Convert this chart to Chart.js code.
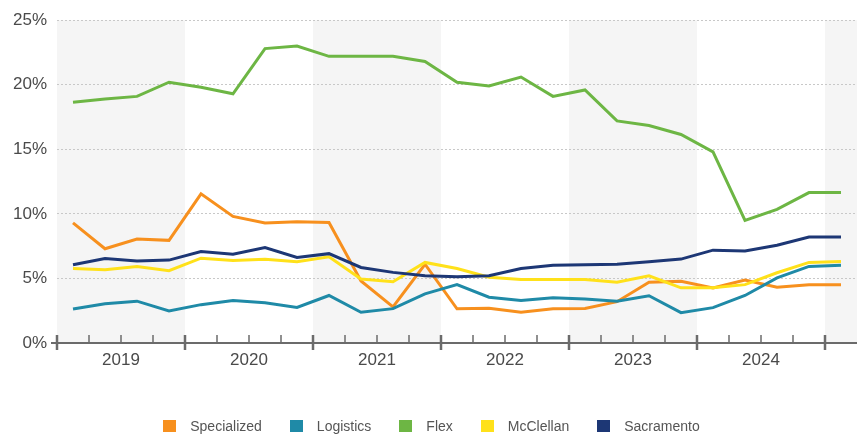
<!DOCTYPE html>
<html>
<head>
<meta charset="utf-8">
<script src="https://cdn.jsdelivr.net/npm/chart.js@4"></script>
<style>
  body { margin: 0; background: #fff; }
  #wrap { position: relative; width: 857px; height: 435px; }
  #legend {
    position: absolute; left: 6px; right: 0; top: 418px;
    display: flex; justify-content: center; align-items: center;
    font: 14px "Liberation Sans", Arial, sans-serif; color: #555;
  }
  #legend .item { display: flex; align-items: center; margin: 0 14px; }
  #legend .box { width: 13px; height: 12px; margin-right: 14px; }
</style>
</head>
<body>
<div id="wrap">
  <canvas id="chart" width="857" height="435"></canvas>
  <div id="legend"></div>
</div>
<script>
// Quarterly vacancy rates, 2019 Q1 to 2025 Q1
const quarters = [
  '2019 Q1', '2019 Q2', '2019 Q3', '2019 Q4',
  '2020 Q1', '2020 Q2', '2020 Q3', '2020 Q4',
  '2021 Q1', '2021 Q2', '2021 Q3', '2021 Q4',
  '2022 Q1', '2022 Q2', '2022 Q3', '2022 Q4',
  '2023 Q1', '2023 Q2', '2023 Q3', '2023 Q4',
  '2024 Q1', '2024 Q2', '2024 Q3', '2024 Q4',
  '2025 Q1'
];
const yearLabels = ['2019', '2020', '2021', '2022', '2023', '2024'];
const yTicks = [0, 5, 10, 15, 20, 25];

const specialized = [9.3, 7.3, 8.05, 7.95, 11.55, 9.8, 9.3, 9.4, 9.33, 4.8, 2.8, 6.1, 2.65, 2.7, 2.38, 2.65, 2.68, 3.2, 4.7, 4.78, 4.27, 4.88, 4.32, 4.52, 4.52];
const logistics   = [2.63, 3.04, 3.24, 2.48, 2.97, 3.3, 3.12, 2.76, 3.68, 2.38, 2.66, 3.81, 4.52, 3.55, 3.3, 3.5, 3.4, 3.24, 3.66, 2.35, 2.74, 3.68, 5.04, 5.93, 6.03];
const flex        = [18.65, 18.9, 19.1, 20.2, 19.8, 19.3, 22.8, 23.0, 22.2, 22.2, 22.2, 21.8, 20.2, 19.9, 20.6, 19.1, 19.6, 17.2, 16.85, 16.15, 14.8, 9.5, 10.35, 11.65, 11.65];
const mcclellan   = [5.77, 5.67, 5.93, 5.6, 6.57, 6.39, 6.49, 6.3, 6.67, 4.96, 4.75, 6.24, 5.77, 5.09, 4.91, 4.91, 4.91, 4.7, 5.21, 4.27, 4.27, 4.52, 5.44, 6.24, 6.31];
const sacramento  = [6.06, 6.54, 6.36, 6.42, 7.08, 6.88, 7.39, 6.62, 6.92, 5.85, 5.47, 5.21, 5.14, 5.21, 5.77, 6.03, 6.06, 6.1, 6.29, 6.5, 7.19, 7.13, 7.57, 8.2, 8.2];

const seriesNames  = ['Specialized', 'Logistics', 'Flex', 'McClellan', 'Sacramento'];
const seriesColors = ['#F7901E', '#1F8AA7', '#6DB644', '#FFE11A', '#1D3775'];
const seriesData   = [specialized, logistics, flex, mcclellan, sacramento];

const FONT = '"Liberation Sans", Arial, sans-serif';

// Alternating year bands (under the grid), plus the bottom axis with quarter and year ticks
const yearAxisPlugin = {
  id: 'yearAxis',
  beforeDraw(chart) {
    const { ctx, chartArea, scales: { x } } = chart;
    ctx.save();
    ctx.fillStyle = '#F5F5F5';
    for (let k = 0; k * 4 < quarters.length; k += 2) {
      const x0 = x.getPixelForValue(k * 4 - 0.5);
      const x1 = Math.min(x.getPixelForValue(k * 4 + 3.5), chartArea.right);
      ctx.fillRect(x0, chartArea.top, x1 - x0, chartArea.bottom - chartArea.top);
    }
    ctx.restore();
  },
  afterDraw(chart) {
    const { ctx, chartArea, scales: { x } } = chart;
    const y = chartArea.bottom;
    ctx.save();
    ctx.strokeStyle = '#6B6B6B';
    ctx.lineWidth = 2;
    ctx.beginPath();
    ctx.moveTo(chartArea.left - 6, y);
    ctx.lineTo(chartArea.right, y);
    ctx.stroke();
    for (let i = 0; i < quarters.length; i++) {
      const px = Math.round(x.getPixelForValue(i - 0.5));
      const major = i % 4 === 0;
      ctx.lineWidth = major ? 2.5 : 1.5;
      ctx.beginPath();
      ctx.moveTo(px, y - 8);
      ctx.lineTo(px, major ? y + 7 : y);
      ctx.stroke();
    }
    ctx.restore();
  }
};

const ctx = document.getElementById('chart').getContext('2d');
new Chart(ctx, {
  type: 'line',
  data: {
    labels: quarters,
    datasets: seriesNames.map((name, i) => ({
      label: name,
      data: seriesData[i],
      borderColor: seriesColors[i],
      backgroundColor: seriesColors[i],
      borderWidth: 3,
      pointRadius: 0,
      tension: 0,
      fill: false,
      order: seriesNames.length - i
    }))
  },
  options: {
    responsive: false,
    animation: false,
    layout: { padding: { top: 17, right: 0, left: 0, bottom: 62 } },
    plugins: {
      legend: { display: false },
      tooltip: { enabled: false }
    },
    scales: {
      x: {
        offset: true,
        grid: { display: false, drawTicks: false },
        border: { display: false },
        afterFit(scale) { scale.height = 30; },
        ticks: {
          autoSkip: false,
          maxRotation: 0,
          padding: 7,
          labelOffset: 16,
          color: '#4A4A4A',
          font: { family: FONT, size: 17 },
          callback: (v, i) => (i % 4 === 1 && yearLabels[(i - 1) / 4]) ? yearLabels[(i - 1) / 4] : ''
        }
      },
      y: {
        min: 0,
        max: 25,
        afterFit(scale) { scale.width = 57; },
        afterBuildTicks(scale) { scale.ticks = yTicks.map(v => ({ value: v })); },
        grid: { color: '#C8C8C8', lineWidth: 1, drawTicks: false },
        border: { display: false, dash: [2, 2] },
        ticks: {
          padding: 10,
          color: '#4A4A4A',
          font: { family: FONT, size: 17 },
          callback: v => v + '%'
        }
      }
    }
  },
  plugins: [yearAxisPlugin]
});

// Legend below the chart
const legend = document.getElementById('legend');
seriesNames.forEach((name, i) => {
  const item = document.createElement('div');
  item.className = 'item';
  item.innerHTML = `<span class="box" style="background:${seriesColors[i]}"></span>${name}`;
  legend.appendChild(item);
});
</script>
</body>
</html>
